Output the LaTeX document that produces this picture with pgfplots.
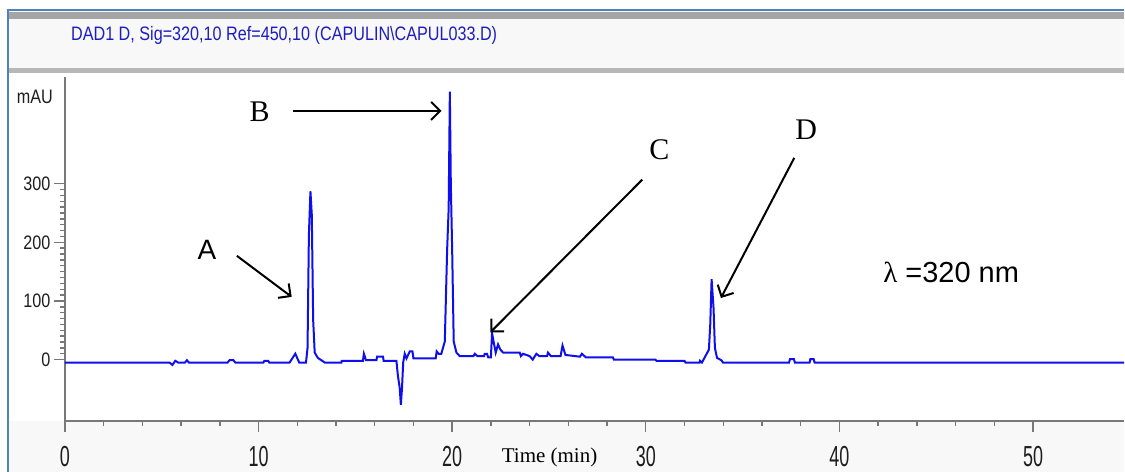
\documentclass[border=0pt]{standalone}
\usepackage{pgfplots}
\pgfplotsset{compat=1.18}
\usepackage{fontspec}
\setmainfont{Liberation Sans}
\newfontfamily\xtickfont[FakeStretch=0.62]{Liberation Sans}
\newfontfamily\ytickfont[FakeStretch=0.83]{Liberation Sans}
\newfontfamily\titlefont[FakeStretch=0.83]{Liberation Sans}
\newfontfamily\seriffont{Liberation Serif}
\usetikzlibrary{arrows.meta}
\definecolor{bggray}{RGB}{248,248,248}
\definecolor{bandgray}{RGB}{165,165,165}
\definecolor{frameblue}{RGB}{79,129,189}
\definecolor{titleblue}{RGB}{30,30,190}
\definecolor{traceblue}{RGB}{15,15,235}
\definecolor{axgray}{RGB}{120,120,120}
\definecolor{ticktext}{RGB}{30,30,30}
\begin{document}
\begin{tikzpicture}
% window frame and backgrounds
\fill[white] (0,0) rectangle (1125pt,472pt);
\fill[bggray] (8pt,0) rectangle (1125pt,51pt);
\fill[bggray] (8pt,399pt) rectangle (1125pt,461pt);
\fill[bandgray] (8pt,453pt) rectangle (1125pt,459.5pt);
\fill[bandgray!80] (8pt,399pt) rectangle (1125pt,403.5pt);
\fill[frameblue] (8pt,460.5pt) rectangle (1125pt,463pt);
\fill[frameblue] (7pt,0) rectangle (9.5pt,463pt);
\node[font=\titlefont\fontsize{19.5}{19.5}\selectfont, text=titleblue, anchor=west, inner sep=0pt]
  at (71pt,437pt) {DAD1 D, Sig=320,10 Ref=450,10 (CAPULIN\textbackslash CAPUL033.D)};
\begin{axis}[
  at={(65pt,51pt)}, anchor=south west,
  scale only axis, width=1060pt, height=344pt,
  xmin=0, xmax=54.7, ymin=-104, ymax=482,
  axis x line=bottom, axis y line=left,
  axis line style={-, draw=axgray, line width=1.8pt},
  xtick={0,10,...,50}, minor x tick num=4,
  ytick={0,100,200,300}, minor y tick num=9,
  tick align=outside,
  major tick length=11pt, minor tick length=5pt,
  tick style={draw=axgray, line width=1.4pt},
  /pgf/number format/assume math mode=true,
  xticklabel style={font=\xtickfont\fontsize{29}{29}\selectfont, text=ticktext, yshift=-11pt},
  yticklabel style={font=\ytickfont\fontsize{19.5}{19.5}\selectfont, text=ticktext},
  clip=false,
]
\addplot[traceblue, line width=2pt] coordinates {
(0,-5) (5.4,-5) (5.55,-9) (5.7,-2) (5.85,-5) (6.2,-5) (6.3,-1) (6.4,-5)
(8.4,-5) (8.5,-1) (8.7,-1) (8.8,-5) (10.25,-5) (10.3,-2) (10.5,-2) (10.55,-5)
(11.6,-5) (11.9,10) (12.1,-5) (12.45,-5) (12.53,20) (12.6,213) (12.68,287)
(12.75,247) (12.82,68) (12.9,12) (13.06,3) (13.42,-5) (14.28,-5) (14.3,-2)
(15.39,-2) (15.44,10) (15.55,-1) (16.09,-1) (16.12,5) (16.43,5) (16.46,-2)
(17.12,-2) (17.2,-28) (17.29,-48) (17.35,-77) (17.41,-48) (17.47,-5) (17.55,10)
(17.64,2) (17.81,14) (17.95,14) (18.0,2) (19.15,2) (19.2,14) (19.3,10) (19.44,10)
(19.62,31) (19.74,187) (19.82,259) (19.88,457) (19.93,300) (20.0,187) (20.08,31)
(20.22,12) (20.39,6) (21.1,6) (21.17,10) (21.3,6) (21.65,6) (21.68,10) (21.8,10)
(21.86,4) (22.0,4) (22.06,45) (22.15,29) (22.25,12) (22.37,26) (22.49,17)
(22.63,12) (23.49,12) (23.55,6) (23.66,10) (24.0,6) (24.16,0) (24.35,10)
(24.5,6) (24.9,6) (24.95,12) (25.1,6) (25.6,6) (25.7,24) (25.85,8) (26.6,5)
(26.7,10) (26.9,4) (28.3,4) (28.35,0) (30.5,0) (30.55,-2) (32.0,-2) (32.05,-5)
(32.78,-5) (32.8,-2) (32.9,-5) (33.26,17) (33.33,60) (33.40,137) (33.5,88)
(33.57,20) (33.68,3) (33.9,-1) (33.99,-5) (37.4,-5) (37.45,1) (37.65,1)
(37.7,-5) (38.46,-5) (38.5,1) (38.67,1) (38.72,-5) (54.7,-5)
};
% annotations
\node[font=\ytickfont\fontsize{19.5}{19.5}\selectfont, text=ticktext] at (axis cs:-1.55,448) {mAU};
\node[font=\fontsize{28}{28}\selectfont] at (axis cs:7.33,187) {A};
\node[font=\seriffont\fontsize{30}{30}\selectfont] at (axis cs:10.06,422) {B};
\node[font=\seriffont\fontsize{30}{30}\selectfont] at (axis cs:30.70,358) {C};
\node[font=\seriffont\fontsize{30}{30}\selectfont] at (axis cs:38.29,392) {D};
\node[font=\fontsize{29}{29}\selectfont] at (axis cs:45.77,148) {{\seriffont λ} =320 nm};
\node[font=\seriffont\fontsize{21}{21}\selectfont] at (axis cs:25.03,-167) {Time (min)};
\draw[line width=2pt, -{Straight Barb[length=9pt,width=18pt]}] (axis cs:8.88,177) -- (axis cs:11.71,107);
\draw[line width=2pt, -{Straight Barb[length=9pt,width=18pt]}] (axis cs:11.76,424) -- (axis cs:19.45,424);
\draw[line width=2pt, -{Straight Barb[length=9pt,width=18pt]}] (axis cs:29.82,307) -- (axis cs:21.97,46.5);
\draw[line width=2pt, -{Straight Barb[length=9pt,width=18pt]}] (axis cs:37.67,344) -- (axis cs:33.88,105);
\end{axis}
\end{tikzpicture}
\end{document}
